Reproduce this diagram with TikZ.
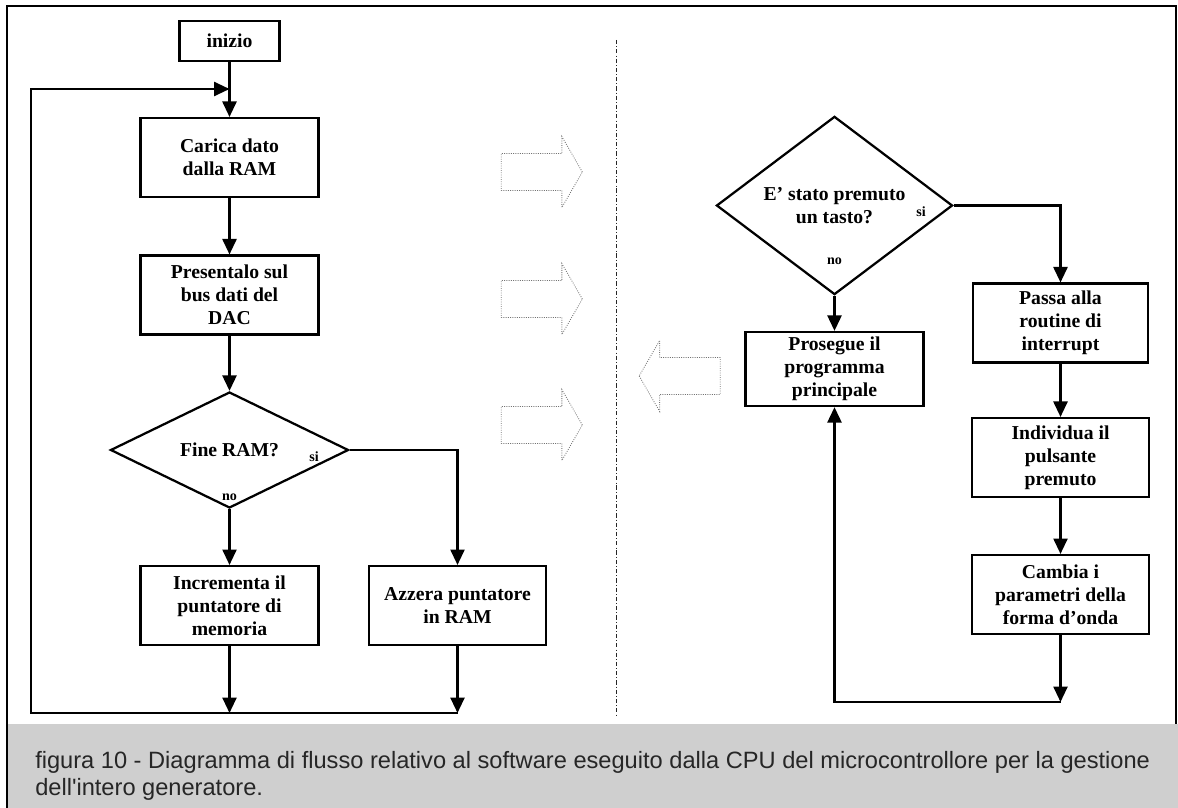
\documentclass[tikz,border=0pt]{standalone}
\usepackage{fontspec}
\setmainfont{Liberation Serif}
\newfontfamily\capfont{Liberation Sans}
\usetikzlibrary{shapes.geometric, shapes.arrows, positioning, arrows.meta}

\begin{document}
\begin{tikzpicture}[x=0.025cm, y=-0.025cm,
    block/.style={rectangle, draw, black, line width=1.6pt, fill=white, minimum width=4.45cm, minimum height=1.97cm, inner sep=0pt, align=center, font=\bfseries\fontsize{14}{16.4}\selectfont},
    decision/.style={diamond, draw, black, line width=1.6pt, fill=white, inner sep=0pt, align=center, font=\bfseries\fontsize{14}{16.4}\selectfont},
    branch/.style={font=\bfseries\fontsize{10}{12}\selectfont, inner sep=0pt},
    flow/.style={draw, black, line width=1.6pt, -{Triangle[length=11pt, width=10pt]}},
    hollow/.style={single arrow, draw=black!55, densely dotted, line width=0.6pt, fill=white, text height=0.45cm, text depth=0.45cm, minimum height=2.025cm, single arrow tip angle=120, single arrow head extend=0.425cm, inner sep=0pt},
    divider/.style={draw, black!85, line width=0.7pt, dash pattern=on 3pt off 1.5pt on 0.6pt off 1.5pt},
    figcaption/.style={font=\capfont\fontsize{16.8}{19.2}\selectfont, align=left, inner sep=0pt, text=black!85}]

    \useasboundingbox (0,0) rectangle (1178,808);

    % --- Frame and caption band ---
    \fill[black!19] (7,724) rectangle (1178,808);
    \draw[line width=1.8pt] (7,808) -- (7,6) -- (1176,6) -- (1176,724);
    \node[figcaption, anchor=north west] (cap) at (35,751)
        {figura 10 - Diagramma di flusso relativo al software eseguito dalla CPU del microcontrollore per la gestione\\dell'intero generatore.};

    % --- Main loop (left) ---
    \node[block, minimum width=2.5cm, minimum height=1cm] (inizio) at (229.5,41) {inizio};
    \node[block] (carica) at (229.5,157.5) {Carica dato\\dalla RAM};
    \node[block] (presenta) at (229.5,295) {Presentalo sul\\bus dati del\\DAC};
    \node[decision, minimum width=5.95cm, minimum height=2.9cm] (fineram) at (229.5,450) {Fine RAM?};
    \node[block] (incrementa) at (229.5,605.5) {Incrementa il\\puntatore di\\memoria};
    \node[block, minimum width=4.42cm] (azzera) at (457.5,605.5) {Azzera puntatore\\in RAM};
    \node[branch] (si1) at (314,457) {si};
    \node[branch] (no1) at (229.5,497) {no};

    \coordinate (join1) at (229.5,89);
    \coordinate (mergeL) at (229.5,713);
    \coordinate (mergeR) at (457.5,713);
    \coordinate (loopBL) at (31,713);

    \draw[flow] (inizio) -- (carica);
    \draw[flow] (carica) -- (presenta);
    \draw[flow] (presenta) -- (fineram);
    \draw[flow] (fineram) -- (incrementa);
    \draw[flow] (fineram.east) -| (azzera.north);
    \draw[flow] (incrementa) -- (mergeL);
    \draw[flow] (azzera) -- (mergeR);
    \draw[flow] (mergeR) -- (loopBL) |- (join1);

    % --- Hollow arrows and divider ---
    \node[hollow] (go1) at (536.5,172) {};
    \node[hollow] (go2) at (536.5,299) {};
    \node[hollow] (go3) at (536.5,425) {};
    \node[hollow, shape border rotate=180] (back) at (685,376) {};
    \coordinate (divtop) at (616,40);
    \coordinate (divbot) at (616,717);
    \draw[divider] (divtop) -- (divbot);

    % --- Interrupt routine (right) ---
    \node[decision, minimum width=5.9cm, minimum height=3.425cm] (tasto) at (834.5,205.5) {E’ stato premuto\\un tasto?};
    \node[block, minimum height=1.85cm] (prosegue) at (834.5,369) {Prosegue il\\programma\\principale};
    \node[block, minimum width=4.38cm] (passa) at (1060.5,323) {Passa alla\\routine di\\interrupt};
    \node[block, minimum width=4.42cm] (individua) at (1060.5,457.5) {Individua il\\pulsante\\premuto};
    \node[block, minimum width=4.42cm] (cambia) at (1060.5,594.5) {Cambia i\\parametri della\\forma d’onda};
    \node[branch] (si2) at (921,212) {si};
    \node[branch] (no2) at (834.5,261) {no};

    \coordinate (join2) at (1060.5,702);

    \draw[flow] (tasto) -- (prosegue);
    \draw[flow] (tasto.east) -| (passa.north);
    \draw[flow] (passa) -- (individua);
    \draw[flow] (individua) -- (cambia);
    \draw[flow] (cambia) -- (join2);
    \draw[flow] (join2) -| (prosegue.south);

\end{tikzpicture}
\end{document}
